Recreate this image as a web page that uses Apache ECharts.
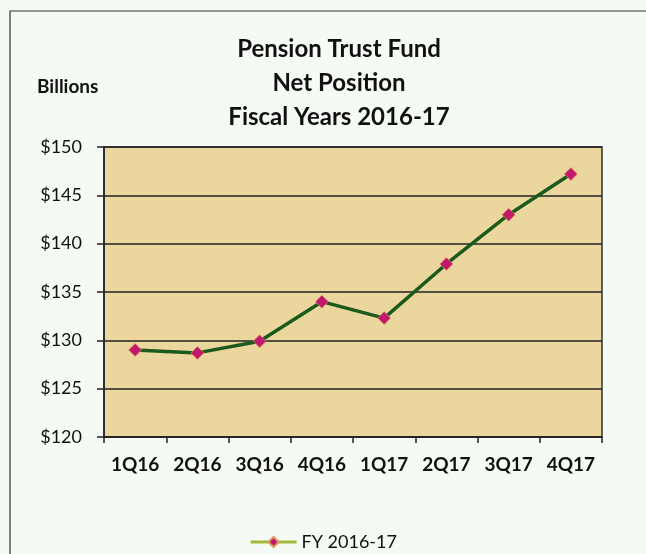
<!DOCTYPE html>
<html>
<head>
<meta charset="utf-8">
<script src="https://cdn.jsdelivr.net/npm/echarts@6/dist/echarts.min.js"></script>
<style>
  html, body { margin: 0; padding: 0; background: #f6faf4; }
  #chart { width: 646px; height: 554px; }
</style>
</head>
<body>
<div id="chart"></div>
<script>
// Quarterly net position of the pension trust fund, in billions of dollars
const quarters = ['1Q16', '2Q16', '3Q16', '4Q16', '1Q17', '2Q17', '3Q17', '4Q17'];
const netPosition = [129.0, 128.7, 129.9, 134.0, 132.3, 137.9, 143.0, 147.2];
const seriesName = 'FY 2016-17';
const titleLines = ['Pension Trust Fund', 'Net Position', 'Fiscal Years 2016-17'];

const chart = echarts.init(document.getElementById('chart'), null, { renderer: 'canvas' });

const FONT = 'Lato, "Open Sans", sans-serif';

chart.setOption({
  backgroundColor: '#f6faf4',
  animation: false,
  graphic: [
    {
      type: 'rect',
      shape: { x: 10, y: 11, width: 700, height: 600 },
      style: { fill: null, stroke: '#333', lineWidth: 1.2 },
      z: 0
    },
    {
      type: 'text',
      left: 37,
      top: 77,
      style: { text: 'Billions', font: 'bold 19px ' + FONT, fill: '#111' }
    }
  ],
  title: {
    text: titleLines.join('\n'),
    left: 334,
    top: 27,
    textAlign: 'center',
    textStyle: {
      fontFamily: FONT,
      fontWeight: 'bold',
      fontSize: 24,
      lineHeight: 34,
      color: '#111'
    }
  },
  legend: {
    top: 528,
    left: 'center',
    data: [seriesName],
    itemWidth: 46,
    itemHeight: 13,
    textStyle: { fontFamily: FONT, fontSize: 18, color: '#111' },
    lineStyle: { color: '#9fba38', width: 3 },
    itemStyle: { color: '#c2186c' }
  },
  grid: {
    left: 104,
    right: 44,
    top: 147,
    bottom: 117,
    show: true,
    backgroundColor: '#ebd79d',
    borderColor: '#2b3030',
    borderWidth: 1.5,
    containLabel: false
  },
  xAxis: {
    type: 'category',
    data: quarters,
    boundaryGap: true,
    axisLine: { show: true, lineStyle: { color: '#222', width: 1.5 } },
    axisTick: { show: true, interval: 0, alignWithLabel: false, length: 6, lineStyle: { color: '#222', width: 1.5 } },
    axisLabel: {
      interval: 0,
      fontFamily: FONT,
      fontWeight: 'bold',
      fontSize: 19,
      color: '#111',
      margin: 18
    }
  },
  yAxis: {
    type: 'value',
    min: 120,
    max: 150,
    interval: 5,
    axisLine: { show: true, lineStyle: { color: '#222', width: 1.5 } },
    axisTick: { show: true, length: 7, lineStyle: { color: '#222', width: 1.5 } },
    splitLine: { show: true, lineStyle: { color: '#222', width: 1.5 } },
    axisLabel: {
      fontFamily: FONT,
      fontSize: 18,
      color: '#111',
      margin: 22,
      formatter: v => '$' + v
    }
  },
  series: [
    {
      name: seriesName,
      type: 'line',
      data: netPosition,
      symbol: 'diamond',
      symbolSize: 13,
      lineStyle: { color: '#1c5a1c', width: 3.5 },
      itemStyle: { color: '#c2186c', borderColor: '#d8a060', borderWidth: 0.6 },
      z: 3
    }
  ]
});
</script>
</body>
</html>
